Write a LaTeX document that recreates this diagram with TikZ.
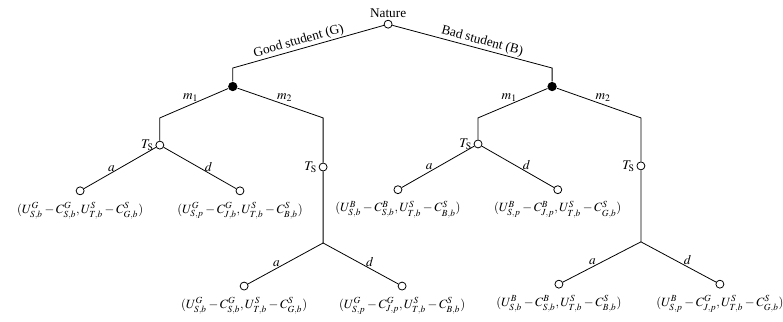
\documentclass[tikz,border=0pt]{standalone}
\usepackage{mathptmx}
\usepackage{fontspec}
\setmainfont{Liberation Serif}
\usetikzlibrary{positioning}

\begin{document}
\begin{tikzpicture}[line width=0.6pt,
  chance/.style={circle, draw, fill=white, inner sep=0pt, minimum size=6pt},
  info/.style={circle, fill=black, inner sep=0pt, minimum size=7pt},
  move/.style={pos=0.62, above, inner sep=1pt},
  payoff/.style={font=\fontsize{9.5}{11}\selectfont, inner sep=1pt}
]
  \useasboundingbox (0,0) rectangle (20.72,8.52);

  % nature and the two information sets
  \node[chance, label={[inner sep=1pt]above:Nature}] (nat) at (10.27,7.88) {};
  \coordinate (gc) at (6.16,6.72);
  \coordinate (bc) at (14.61,6.72);
  \node[info] (gi) at (6.16,6.23) {};
  \node[info] (bi) at (14.61,6.23) {};
  \draw (nat) -- node[pos=0.55, sloped, above, inner sep=1pt] {Good student (G)} (gc) -- (gi);
  \draw (nat) -- node[pos=0.55, sloped, above, inner sep=1pt] {Bad student (B)} (bc) -- (bi);

  % good student
  \coordinate (g1c) at (4.23,5.40);
  \coordinate (g2c) at (8.55,5.40);
  \node[chance, label={[inner sep=1pt]left:$T_{\mathrm{S}}$}] (g1t) at (4.23,4.68) {};
  \node[chance, label={[inner sep=1pt]left:$T_{\mathrm{S}}$}] (g2t) at (8.55,4.10) {};
  \coordinate (g2s) at (8.55,2.09);
  \draw (gi) -- node[pos=0.55, above, inner sep=2pt] {$m_1$} (g1c) -- (g1t);
  \draw (gi) -- node[pos=0.55, above, inner sep=2pt] {$m_2$} (g2c) -- (g2t) -- (g2s);

  \node[chance] (g1a) at (2.12,3.47) {};
  \node[chance] (g1d) at (6.35,3.47) {};
  \node[chance] (g2a) at (6.46,0.95) {};
  \node[chance] (g2d) at (10.64,0.95) {};
  \draw (g1t) -- node[move] {$a$} (g1a);
  \draw (g1t) -- node[move] {$d$} (g1d);
  \draw (g2s) -- node[move] {$a$} (g2a);
  \draw (g2s) -- node[move] {$d$} (g2d);

  \node[payoff, below=4pt of g1a] (pg1a) {$(U^G_{S,b}-C^G_{S,b},U^S_{T,b}-C^S_{G,b})$};
  \node[payoff, below=4pt of g1d] (pg1d) {$(U^G_{S,p}-C^G_{J,b},U^S_{T,b}-C^S_{B,b})$};
  \node[payoff, below=4pt of g2a] (pg2a) {$(U^G_{S,b}-C^G_{S,b},U^S_{T,b}-C^S_{G,b})$};
  \node[payoff, below=4pt of g2d] (pg2d) {$(U^G_{S,p}-C^G_{J,p},U^S_{T,b}-C^S_{B,b})$};

  % bad student
  \coordinate (b1c) at (12.65,5.40);
  \coordinate (b2c) at (16.96,5.40);
  \node[chance, label={[inner sep=1pt]left:$T_{\mathrm{S}}$}] (b1t) at (12.65,4.71) {};
  \node[chance, label={[inner sep=1pt]left:$T_{\mathrm{S}}$}] (b2t) at (16.96,4.13) {};
  \coordinate (b2s) at (16.96,2.12);
  \draw (bi) -- node[pos=0.55, above, inner sep=2pt] {$m_1$} (b1c) -- (b1t);
  \draw (bi) -- node[pos=0.55, above, inner sep=2pt] {$m_2$} (b2c) -- (b2t) -- (b2s);

  \node[chance] (b1a) at (10.53,3.50) {};
  \node[chance] (b1d) at (14.76,3.50) {};
  \node[chance] (b2a) at (14.79,1.00) {};
  \node[chance] (b2d) at (19.05,1.00) {};
  \draw (b1t) -- node[move] {$a$} (b1a);
  \draw (b1t) -- node[move] {$d$} (b1d);
  \draw (b2s) -- node[move] {$a$} (b2a);
  \draw (b2s) -- node[move] {$d$} (b2d);

  \node[payoff, below=4pt of b1a] (pb1a) {$(U^B_{S,b}-C^B_{S,b},U^S_{T,b}-C^S_{B,b})$};
  \node[payoff, below=4pt of b1d] (pb1d) {$(U^B_{S,p}-C^B_{J,p},U^S_{T,b}-C^S_{G,b})$};
  \node[payoff, below=4pt of b2a] (pb2a) {$(U^B_{S,b}-C^B_{S,b},U^S_{T,b}-C^S_{B,b})$};
  \node[payoff, below=4pt of b2d] (pb2d) {$(U^B_{S,p}-C^G_{J,p},U^S_{T,b}-C^S_{G,b})$};
\end{tikzpicture}
\end{document}
